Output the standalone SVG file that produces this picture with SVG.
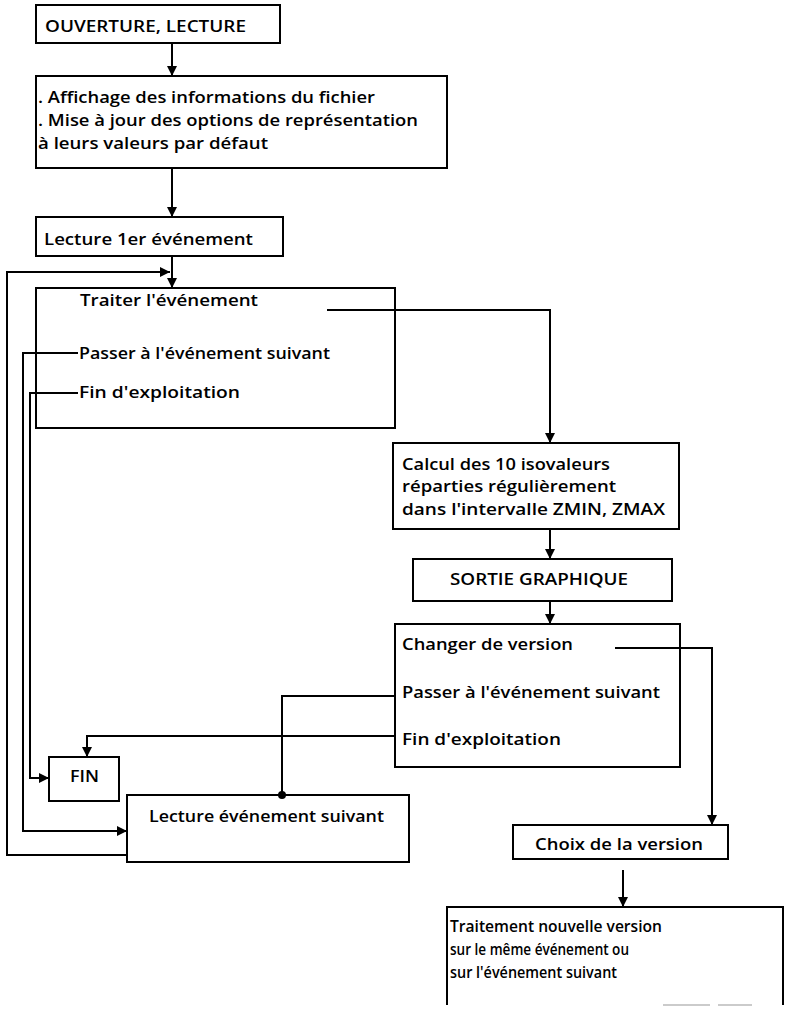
<svg xmlns="http://www.w3.org/2000/svg" width="785" height="1009" viewBox="0 0 785 1009">
<style>
.box{fill:#fff;stroke:#000;stroke-width:2}
.t{font-family:"Open Sans","Liberation Sans",sans-serif;font-size:17px;font-weight:600;fill:#000}
.c{fill:none;stroke:#000;stroke-width:2}
</style>
<defs>
<marker id="ah" viewBox="0 0 10 10" refX="10" refY="5" markerWidth="5" markerHeight="6.5" orient="auto" markerUnits="strokeWidth">
<path d="M0,0 L10,5 L0,10 z" fill="#000"/>
</marker>
</defs>
<rect width="785" height="1009" fill="#fff"/>
<g id="n1"><rect class="box" x="36" y="5" width="244" height="38"/>
<text class="t" x="45" y="32" textLength="201" lengthAdjust="spacingAndGlyphs">OUVERTURE, LECTURE</text></g>
<g id="n2"><rect class="box" x="36" y="76" width="411" height="92"/>
<text class="t" x="38" y="103" textLength="337" lengthAdjust="spacingAndGlyphs">. Affichage des informations du fichier</text>
<text class="t" x="38" y="126" textLength="380" lengthAdjust="spacingAndGlyphs">. Mise à jour des options de représentation</text>
<text class="t" x="38" y="149" textLength="230" lengthAdjust="spacingAndGlyphs">à leurs valeurs par défaut</text></g>
<g id="n3"><rect class="box" x="36" y="217" width="247" height="39"/>
<text class="t" x="44" y="245" textLength="209" lengthAdjust="spacingAndGlyphs">Lecture 1er événement</text></g>
<g id="n4"><rect class="box" x="36" y="288" width="359" height="140"/>
<text class="t" x="80" y="306" textLength="178" lengthAdjust="spacingAndGlyphs">Traiter l'événement</text>
<text class="t" x="79" y="359" textLength="251" lengthAdjust="spacingAndGlyphs">Passer à l'événement suivant</text>
<text class="t" x="79" y="398" textLength="161" lengthAdjust="spacingAndGlyphs">Fin d'exploitation</text></g>
<g id="n5"><rect class="box" x="393" y="443" width="286" height="86"/>
<text class="t" x="402" y="470" textLength="208" lengthAdjust="spacingAndGlyphs">Calcul des 10 isovaleurs</text>
<text class="t" x="402" y="492" textLength="214" lengthAdjust="spacingAndGlyphs">réparties régulièrement</text>
<text class="t" x="402" y="515" textLength="263" lengthAdjust="spacingAndGlyphs">dans l'intervalle ZMIN, ZMAX</text></g>
<g id="n6"><rect class="box" x="413" y="559" width="259" height="42"/>
<text class="t" x="450" y="585" textLength="178" lengthAdjust="spacingAndGlyphs">SORTIE GRAPHIQUE</text></g>
<g id="n7"><rect class="box" x="395" y="624" width="285" height="143"/>
<text class="t" x="402" y="650" textLength="171" lengthAdjust="spacingAndGlyphs">Changer de version</text>
<text class="t" x="402" y="698" textLength="258" lengthAdjust="spacingAndGlyphs">Passer à l'événement suivant</text>
<text class="t" x="402" y="745" textLength="159" lengthAdjust="spacingAndGlyphs">Fin d'exploitation</text></g>
<g id="n8"><rect class="box" x="49" y="757" width="70" height="44"/>
<text class="t" x="70" y="782" textLength="29" lengthAdjust="spacingAndGlyphs">FIN</text></g>
<g id="n9"><rect class="box" x="127" y="795" width="282" height="67"/>
<text class="t" x="149" y="822" textLength="235" lengthAdjust="spacingAndGlyphs">Lecture événement suivant</text></g>
<g id="n10"><rect class="box" x="513" y="825" width="215" height="34"/>
<text class="t" x="535" y="850" textLength="168" lengthAdjust="spacingAndGlyphs">Choix de la version</text></g>
<g id="n11"><path class="c" d="M447,1005 V907 H783 V1005"/>
<path d="M663,1005 H710 M718,1005 H752" stroke="#bbb" stroke-width="1.5" fill="none"/>
<text class="t" x="450" y="932" textLength="212" lengthAdjust="spacingAndGlyphs">Traitement nouvelle version</text>
<text class="t" x="450" y="955" textLength="179" lengthAdjust="spacingAndGlyphs">sur le même événement ou</text>
<text class="t" x="450" y="978" textLength="167" lengthAdjust="spacingAndGlyphs">sur l'événement suivant</text></g>
<g id="connectors">
<path class="c" d="M172,43 V76" marker-end="url(#ah)"/>
<path class="c" d="M172,168 V217" marker-end="url(#ah)"/>
<path class="c" d="M172,256 V288" marker-end="url(#ah)"/>
<path class="c" d="M127,855 H7 V272 H170" marker-end="url(#ah)"/>
<path class="c" d="M78,353 H23 V831 H127" marker-end="url(#ah)"/>
<path class="c" d="M78,393 H30 V778 H49" marker-end="url(#ah)"/>
<path class="c" d="M327,310 H550 V443" marker-end="url(#ah)"/>
<path class="c" d="M550,529 V559" marker-end="url(#ah)"/>
<path class="c" d="M550,601 V624" marker-end="url(#ah)"/>
<path class="c" d="M615,648 H712 V825" marker-end="url(#ah)"/>
<path class="c" d="M395,696 H282 V795"/>
<circle cx="282" cy="795" r="4" fill="#000"/>
<path class="c" d="M395,736 H87 V757" marker-end="url(#ah)"/>
<path class="c" d="M623,870 V907" marker-end="url(#ah)"/>
</g>
</svg>
